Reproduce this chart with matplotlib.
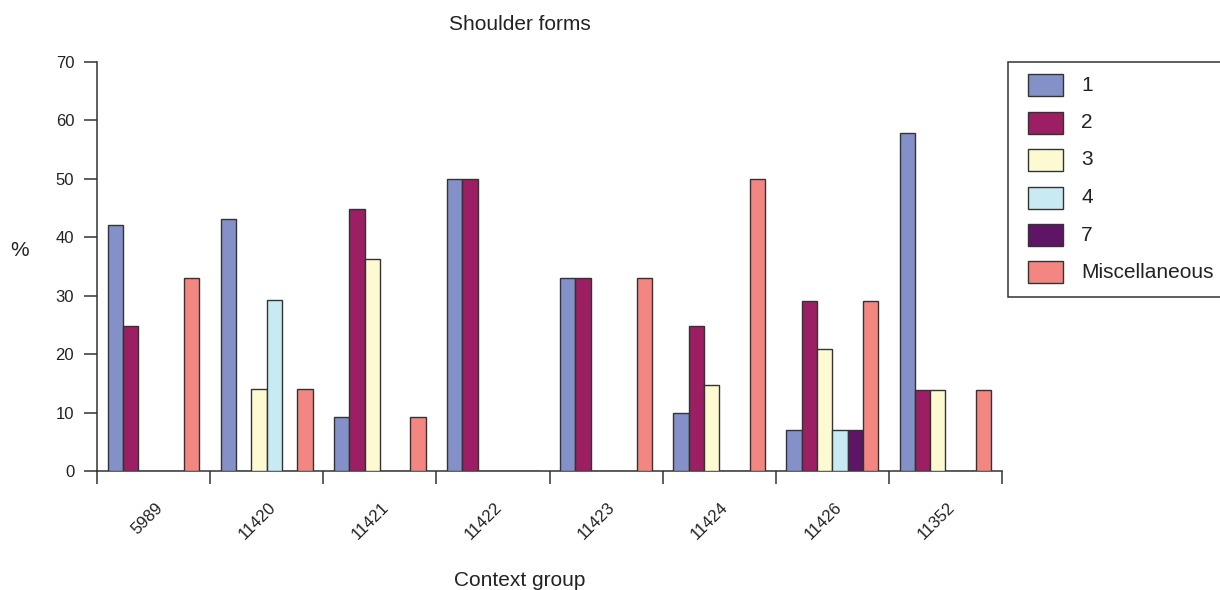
import matplotlib
matplotlib.use("Agg")
import matplotlib.pyplot as plt
from matplotlib.patches import Rectangle
from matplotlib.transforms import blended_transform_factory
import numpy as np

plt.rcParams['font.family'] = ['Liberation Sans', 'DejaVu Sans']

groups = ["5989", "11420", "11421", "11422", "11423", "11424", "11426", "11352"]
series_names = ["1", "2", "3", "4", "7", "Miscellaneous"]
s1 = [42.1, 43.1, 9.2, 50.0, 33.1, 10.0, 7.0, 57.9]
s2 = [24.8, 0, 44.8, 50.0, 33.1, 24.8, 29.1, 13.9]
s3 = [0, 14.0, 36.2, 0, 0, 14.8, 20.9, 13.9]
s4 = [0, 29.2, 0, 0, 0, 0, 7.0, 0]
s7 = [0, 0, 0, 0, 0, 0, 7.0, 0]
misc = [33.1, 14.0, 9.2, 0, 33.1, 50.0, 29.1, 13.9]
yticks = [0, 10, 20, 30, 40, 50, 60, 70]

series = [s1, s2, s3, s4, s7, misc]
colors = ["#8490C8", "#9C1F63", "#FDFAD2", "#C8EAF2", "#5E1566", "#F38680"]

W, H = 1220, 590
fig = plt.figure(figsize=(W / 100, H / 100), dpi=100)

def fx(x):
    return x / W

def fy(y):
    return 1 - y / H

ax_l, ax_r, ax_t, ax_b = 97, 1002, 62, 471
ax = fig.add_axes([fx(ax_l), fy(ax_b), (ax_r - ax_l) / W, (ax_b - ax_t) / H])

G = 7.4
off = 0.7
n = len(groups)
edge = "#333333"
for j, (vals, c) in enumerate(zip(series, colors)):
    xs = np.arange(n) * G + off + j
    ax.bar(xs, vals, width=1.0, align='edge', color=c, edgecolor=edge, linewidth=1.0, zorder=3)

ax.set_xlim(0, n * G)
ax.set_ylim(0, 70)
for s in ["top", "right"]:
    ax.spines[s].set_visible(False)
for s in ["left", "bottom"]:
    ax.spines[s].set_color(edge)
    ax.spines[s].set_linewidth(1.1)
ax.spines["left"].set_bounds(0, 70)
ax.spines["bottom"].set_bounds(0, n * G)

ax.set_yticks(yticks)
ax.set_yticklabels([str(v) for v in yticks])
ax.tick_params(axis='y', length=9.4, width=1.1, color=edge, pad=7, labelsize=12, labelcolor="#222222")
ax.set_xticks(np.arange(n + 1) * G)
ax.set_xticklabels([])
ax.tick_params(axis='x', length=9.4, width=1.1, color=edge)

trans = blended_transform_factory(ax.transData, ax.transAxes)
unit_px = (ax_r - ax_l) / (n * G)
for i, g in enumerate(groups):
    ax.text(i * G + G / 2 + 6.7 / unit_px, -34 / 409, g, transform=trans, rotation=45,
            ha='right', va='center', rotation_mode='anchor', fontsize=12, color="#222222")

fig.text(fx(520), fy(24), "Shoulder forms", ha='center', va='center', fontsize=15, color="#222222")
fig.text(fx(520), fy(580), "Context group", ha='center', va='center', fontsize=15, color="#222222")
fig.text(fx(20), fy(250), "%", ha='center', va='center', fontsize=15, color="#222222")

# legend
fig.add_artist(Rectangle((fx(1008), fy(297)), (1240 - 1008) / W, (297 - 62) / H, transform=fig.transFigure,
                         facecolor='white', edgecolor=edge, linewidth=1.1, clip_on=False))
for k, (name, c) in enumerate(zip(series_names, colors)):
    yc = 85 + k * 37.5
    fig.add_artist(Rectangle((fx(1028), fy(yc + 11)), 35 / W, 22 / H, transform=fig.transFigure,
                             facecolor=c, edgecolor=edge, linewidth=1.0))
    fig.text(fx(1081), fy(yc), name, ha='left', va='center', fontsize=15, color="#222222")

fig.savefig("out.png", dpi=100)
